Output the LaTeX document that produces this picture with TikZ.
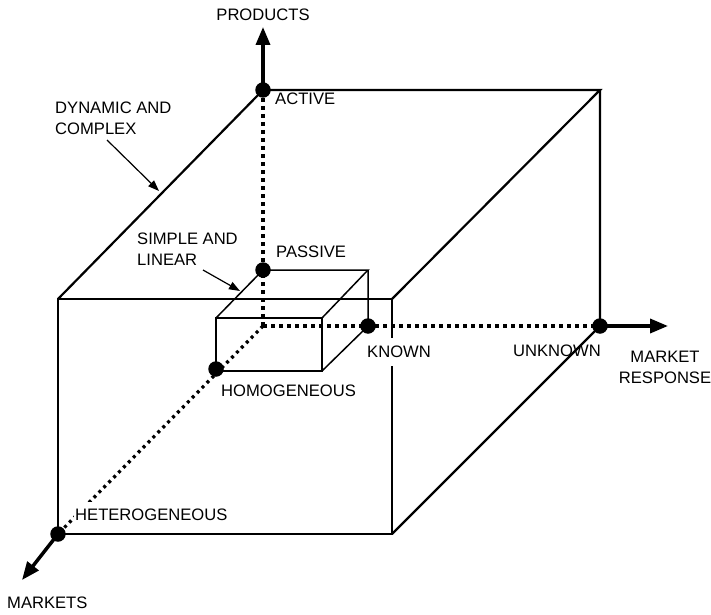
\documentclass[tikz,border=0pt]{standalone}
\usepackage{fontspec}
\setmainfont{Liberation Sans}
\usetikzlibrary{arrows.meta}
\begin{document}
\begin{tikzpicture}[x=1bp,y=-1bp,
  edge/.style={line width=2.2bp, line join=miter},
  thinedge/.style={line width=1.5bp, line join=miter},
  hidden/.style={line width=4bp, dash pattern=on 4bp off 4bp},
  hiddendiag/.style={line width=3.3bp, dash pattern=on 3bp off 4bp},
  axisarrow/.style={line width=3.5bp, -{Triangle[length=18bp,width=14bp]}},
  pointer/.style={line width=1.2bp, -{Triangle[length=11bp,width=8bp]}},
  dotmark/.style={circle, fill=black, inner sep=0pt, minimum size=15.5bp},
  lbl/.style={font=\fontsize{16.6bp}{21bp}\selectfont, inner sep=0pt, align=left},
  cutout/.style={lbl, fill=white, inner xsep=1bp, inner ysep=8bp}
]
\useasboundingbox (0,0) rectangle (711,615);

% axis origin and large box corners
\coordinate (O)  at (263,326);
\coordinate (F1) at (58,299);
\coordinate (F2) at (392,299);
\coordinate (F3) at (392,534);
\coordinate (F4) at (58,534);
\coordinate (B1) at (263,90);
\coordinate (B2) at (600,90);
\coordinate (B3) at (600,326);
% small box corners
\coordinate (b1) at (263,270);
\coordinate (b2) at (368,270);
\coordinate (b3) at (368,326);
\coordinate (f1) at (216,318);
\coordinate (f2) at (322,318);
\coordinate (f3) at (322,371);
\coordinate (f4) at (216,371);
% arrow tips of the three axes
\coordinate (prodtip) at (263,27);
\coordinate (resptip) at (668,326);
\coordinate (markettip) at (22,580);

% hidden edges = dotted axes
\draw[hidden] (B1) -- (O);
\draw[hidden] (O) -- (B3);
\draw[hiddendiag] (O) -- (F4);

% large box
\draw[edge] (F1) rectangle (F3);
\draw[edge] (F1) -- (B1) -- (B2) -- (F2);
\draw[edge] (B2) -- (B3) -- (F3);

% small box
\draw[thinedge] (f1) rectangle (f3);
\draw[thinedge] (f1) -- (b1) -- (b2) -- (f2);
\draw[thinedge] (b2) -- (b3) -- (f3);

% solid axis ends
\draw[axisarrow] (B1) -- (prodtip);
\draw[axisarrow] (B3) -- (resptip);
\draw[axisarrow] (F4) -- (markettip);

% labels
\node[lbl] (products) at (263,15) {PRODUCTS};
\node[lbl, anchor=west] (activelbl) at (275,99) {ACTIVE};
\node[lbl, anchor=west] (passivelbl) at (276,252) {PASSIVE};
\node[cutout, anchor=west, inner ysep=8.5bp] (knownlbl) at (366,352) {KNOWN};
\node[lbl, anchor=east] (unknownlbl) at (601,351) {UNKNOWN};
\node[lbl, align=center] (resplbl) at (665,367) {MARKET\\RESPONSE};
\node[lbl, anchor=west] (homolbl) at (221,391) {HOMOGENEOUS};
\node[cutout, anchor=west, inner ysep=7bp] (heterolbl) at (74,515) {HETEROGENEOUS};
\node[lbl, anchor=west] (marketslbl) at (7,603) {MARKETS};
\node[lbl, anchor=west] (dynlbl) at (55,118.5) {DYNAMIC AND\\COMPLEX};
\node[lbl, anchor=west] (simplbl) at (137,249) {SIMPLE AND\\LINEAR};

% pointers from the two descriptive labels
\coordinate (dynfrom) at (107,140);
\coordinate (dynto) at (159,191);
\coordinate (simpfrom) at (203,270);
\coordinate (simpto) at (240,291);
\draw[pointer] (dynfrom) -- (dynto);
\draw[pointer] (simpfrom) -- (simpto);

% points on the axes
\node[dotmark] (active) at (B1) {};
\node[dotmark] (passive) at (b1) {};
\node[dotmark] (known) at (b3) {};
\node[dotmark] (unknown) at (B3) {};
\node[dotmark] (homog) at (216,369) {};
\node[dotmark] (hetero) at (F4) {};
\end{tikzpicture}
\end{document}
